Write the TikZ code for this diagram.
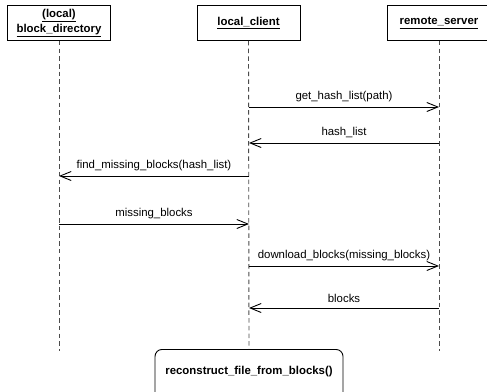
\documentclass[tikz,border=0pt]{standalone}
\usepackage{fontspec}
\setmainfont{Liberation Sans}
\usetikzlibrary{arrows.meta}
\begin{document}
\begin{tikzpicture}[x=1pt,y=-1pt,
  font=\fontsize{11.4}{13.6}\selectfont,
  actor/.style={draw=black,line width=0.9pt,minimum width=103pt,minimum height=35pt,
    inner sep=0pt,align=center,font=\fontsize{11.4}{14.5}\selectfont\bfseries,anchor=north},
  lifeline/.style={draw=black!70,line width=0.9pt,dash pattern=on 4.5pt off 3.2pt},
  msg/.style={draw=black,line width=0.9pt,-{Straight Barb[length=11pt,width=9pt,line width=0.9pt]}},
  lbl/.style={midway,above,inner sep=0pt,yshift=5pt},
  action/.style={draw=black,line width=0.9pt,rounded corners=7pt,minimum width=188pt,
    minimum height=56pt,anchor=north,inner sep=0pt,font=\fontsize{11.4}{13.6}\selectfont\bfseries}]
\useasboundingbox (0,0) rectangle (487,391);
\clip (0,0) rectangle (487,391);
\fill[white] (0,0) rectangle (487,391);

% participants
\node[actor] (dir) at (59,5) {\underline{(local)}\\\underline{block\_directory}};
\node[actor] (cli) at (248.5,5) {\underline{local\_client}};
\node[actor] (srv) at (439,5) {\underline{remote\_server}};

% final action box
\node[action] (rec) at (249,349) {};
\node at (249,372) {\bfseries reconstruct\_file\_from\_blocks()};

% lifeline ends
\coordinate (dirEnd) at (59,351);
\coordinate (srvEnd) at (439,351);

\draw[lifeline] (dir.south) -- (dirEnd);
\draw[lifeline] (cli.south) -- (rec.north);
\draw[lifeline] (srv.south) -- (srvEnd);

% message anchor points on the lifelines
\coordinate (c1) at (249,107); \coordinate (s1) at (439,107);
\coordinate (c2) at (249,143); \coordinate (s2) at (439,143);
\coordinate (c3) at (249,176); \coordinate (d3) at (59,176);
\coordinate (c4) at (249,224); \coordinate (d4) at (59,224);
\coordinate (c5) at (249,266); \coordinate (s5) at (439,266);
\coordinate (c6) at (249,308); \coordinate (s6) at (439,308);

\draw[msg] (c1) -- node[lbl] {get\_hash\_list(path)} (s1);
\draw[msg] (s2) -- node[lbl] {hash\_list} (c2);
\draw[msg] (c3) -- node[lbl] {find\_missing\_blocks(hash\_list)} (d3);
\draw[msg] (d4) -- node[lbl] {missing\_blocks} (c4);
\draw[msg] (c5) -- node[lbl] {download\_blocks(missing\_blocks)} (s5);
\draw[msg] (s6) -- node[lbl] {blocks} (c6);
\end{tikzpicture}
\end{document}
